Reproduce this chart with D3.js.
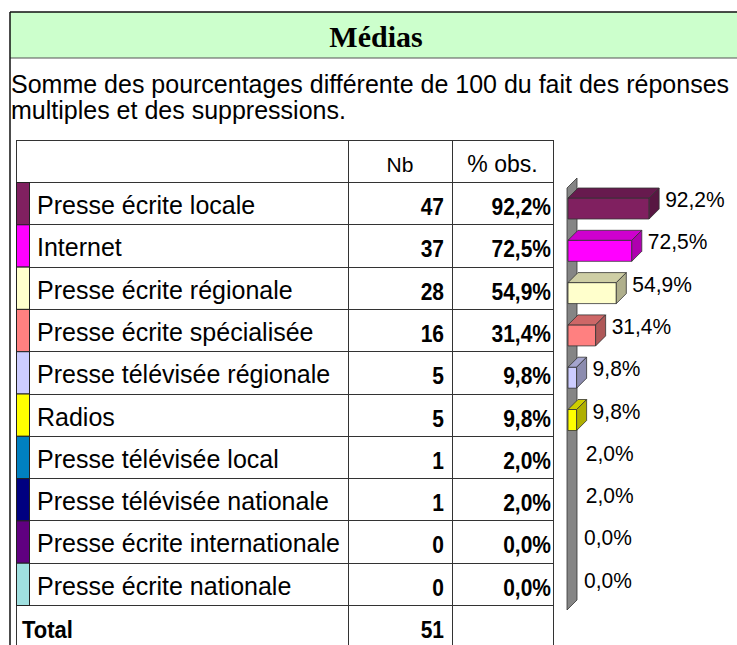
<!DOCTYPE html>
<html>
<head>
  <meta charset="utf-8">
  <style>
    body { margin: 0; background: #fff; }
    svg text { font-family: "Liberation Sans", Arial, sans-serif; fill: #000; }
    .title { font-family: "Liberation Serif", "Times New Roman", serif; font-weight: bold; }
    .grid line { stroke: #333; stroke-width: 1; shape-rendering: crispEdges; }
    .bar path { stroke: #333; stroke-width: 0.8; }
  </style>
  <script src="https://d3js.org/d3.v7.min.js"></script>
</head>
<body>
  <script>
    var categories = [
      "Presse écrite locale",
      "Internet",
      "Presse écrite régionale",
      "Presse écrite spécialisée",
      "Presse télévisée régionale",
      "Radios",
      "Presse télévisée local",
      "Presse télévisée nationale",
      "Presse écrite internationale",
      "Presse écrite nationale"
    ];
    var counts = [47, 37, 28, 16, 5, 5, 1, 1, 0, 0];
    var percents = [92.2, 72.5, 54.9, 31.4, 9.8, 9.8, 2.0, 2.0, 0.0, 0.0];
    var colors = ["#802060", "#ff00ff", "#ffffcc", "#ff8080", "#ccccff",
                  "#ffff00", "#0080c0", "#000080", "#600080", "#a0e0e0"];
    var totalCount = 51;
    var titleText = "Médias";
    var noteLines = [
      "Somme des pourcentages différente de 100 du fait des réponses",
      "multiples et des suppressions."
    ];
    var headers = ["Nb", "% obs."];

    var width = 737, height = 645;

    var rows = categories.map(function(c, i) {
      return { name: c, n: counts[i], pct: percents[i], color: colors[i] };
    });

    // table columns
    var col = { outer: 10, left: 16, strip: 29, nb: 348, pct: 452, right: 553 };
    var tableTop = 140;

    var y = d3.scaleBand().domain(categories).range([182, 605]);
    var x = d3.scaleLinear().domain([0, 100]).range([568, 656]);
    var depth = 10;

    var fmtPct = function(v) { return d3.format(".1f")(v).replace(".", ",") + "%"; };
    // numbers in the source are drawn a little taller than wide
    function put(px, py, sy) { return "translate(" + px + "," + py + ") scale(1," + (sy || 1) + ")"; }

    var svg = d3.select("body").append("svg")
      .attr("width", width)
      .attr("height", height);

    // header band
    svg.append("rect")
      .attr("x", col.outer).attr("y", 12)
      .attr("width", width).attr("height", 46)
      .attr("fill", "#ccffcc");
    svg.append("line").attr("x1", col.outer).attr("x2", width).attr("y1", 12).attr("y2", 12)
      .attr("stroke", "#111").attr("stroke-width", 1.5);
    svg.append("line").attr("x1", col.outer).attr("x2", width).attr("y1", 58).attr("y2", 58)
      .attr("stroke", "#555").attr("stroke-width", 1.2);
    svg.append("line").attr("x1", col.outer).attr("x2", col.outer).attr("y1", 12).attr("y2", height)
      .attr("stroke", "#111").attr("stroke-width", 1.5);

    svg.append("text")
      .attr("class", "title")
      .attr("transform", put(376, 47))
      .attr("text-anchor", "middle")
      .style("font-size", "30px")
      .text(titleText);

    svg.append("text")
      .attr("class", "note")
      .style("font-size", "25px")
      .selectAll("tspan")
      .data(noteLines)
      .enter().append("tspan")
      .attr("x", 11)
      .attr("y", function(d, i) { return 93 + i * 26; })
      .text(function(d) { return d; });

    // table grid
    var grid = svg.append("g").attr("class", "grid");
    var hLines = [tableTop].concat(categories.map(function(c) { return y(c); }), [y.range()[1]]);
    grid.selectAll(".h")
      .data(hLines)
      .enter().append("line")
      .attr("x1", col.left).attr("x2", col.right)
      .attr("y1", function(d) { return Math.round(d) + 0.5; })
      .attr("y2", function(d) { return Math.round(d) + 0.5; });
    grid.selectAll(".v")
      .data([col.left, col.nb, col.pct, col.right])
      .enter().append("line")
      .attr("x1", function(d) { return d + 0.5; }).attr("x2", function(d) { return d + 0.5; })
      .attr("y1", tableTop).attr("y2", height);

    svg.selectAll(".strip")
      .data(rows)
      .enter().append("rect")
      .attr("class", "strip")
      .attr("x", col.left + 0.5)
      .attr("y", function(d) { return y(d.name) + 0.5; })
      .attr("width", col.strip - col.left)
      .attr("height", y.bandwidth())
      .attr("fill", function(d) { return d.color; })
      .attr("stroke", "#222")
      .attr("stroke-width", 1);

    svg.selectAll(".hdr")
      .data(headers)
      .enter().append("text")
      .attr("transform", function(d, i) {
        var cx = i === 0 ? (col.nb + col.pct) / 2 : (col.pct + col.right) / 2;
        return put(cx, tableTop + 32);
      })
      .attr("text-anchor", "middle")
      .style("font-size", function(d, i) { return i === 0 ? "21px" : "23px"; })
      .text(function(d) { return d; });

    var row = svg.selectAll(".row")
      .data(rows)
      .enter().append("g")
      .attr("class", "row");

    row.append("text")
      .attr("transform", function(d) { return put(37, y(d.name) + 32); })
      .style("font-size", "25px")
      .text(function(d) { return d.name; });

    row.append("text")
      .attr("transform", function(d) { return put(col.pct - 8, y(d.name) + 33, 1.1); })
      .attr("text-anchor", "end")
      .style("font-size", "21px")
      .style("font-weight", "bold")
      .text(function(d) { return d.n; });

    row.append("text")
      .attr("transform", function(d) { return put(col.right - 2, y(d.name) + 33, 1.1); })
      .attr("text-anchor", "end")
      .style("font-size", "21px")
      .style("font-weight", "bold")
      .text(function(d) { return fmtPct(d.pct); });

    // total row
    var totalTop = y.range()[1];
    svg.append("text")
      .attr("transform", put(22, totalTop + 33, 1.05))
      .style("font-size", "22px")
      .style("font-weight", "bold")
      .text("Total");
    svg.append("text")
      .attr("transform", put(col.pct - 8, totalTop + 33, 1.1))
      .attr("text-anchor", "end")
      .style("font-size", "21px")
      .style("font-weight", "bold")
      .text(totalCount);

    // 3D wall behind the bars
    var wx = x(0) - 1, wTop = y.range()[0] + 6, wBot = y.range()[1] + 5;
    svg.append("path")
      .attr("d", "M" + wx + "," + wTop + "L" + (wx + depth) + "," + (wTop - depth) +
                 "L" + (wx + depth) + "," + (wBot - depth) + "L" + wx + "," + wBot + "Z")
      .attr("fill", "#858585")
      .attr("stroke", "#333")
      .attr("stroke-width", 0.8);

    // 3D bars; very short ones disappear inside the wall
    var bar = svg.selectAll(".bar")
      .data(rows.filter(function(d) { return x(d.pct) - x(0) > 3; }))
      .enter().append("g")
      .attr("class", "bar");

    function face(d, kind) {
      var x0 = x(0), x1 = x(d.pct);
      var t = y(d.name) + 16, b = t + 21;
      if (kind === "front") return "M" + x0 + "," + t + "H" + x1 + "V" + b + "H" + x0 + "Z";
      if (kind === "top") return "M" + x0 + "," + t + "L" + (x0 + depth) + "," + (t - depth) +
                                 "H" + (x1 + depth) + "L" + x1 + "," + t + "Z";
      return "M" + x1 + "," + t + "L" + (x1 + depth) + "," + (t - depth) +
             "V" + (b - depth) + "L" + x1 + "," + b + "Z";
    }

    bar.append("path").attr("d", function(d) { return face(d, "front"); })
      .attr("fill", function(d) { return d.color; });
    bar.append("path").attr("d", function(d) { return face(d, "top"); })
      .attr("fill", function(d) { return d3.color(d.color).darker(0.6); });
    bar.append("path").attr("d", function(d) { return face(d, "side"); })
      .attr("fill", function(d) { return d3.color(d.color).darker(1.05); });

    svg.selectAll(".lbl")
      .data(rows)
      .enter().append("text")
      .attr("class", "lbl")
      .attr("transform", function(d) { return put(x(d.pct) + 16, y(d.name) + 25, 1.08); })
      .style("font-size", "21px")
      .text(function(d) { return fmtPct(d.pct); });
  </script>
</body>
</html>
